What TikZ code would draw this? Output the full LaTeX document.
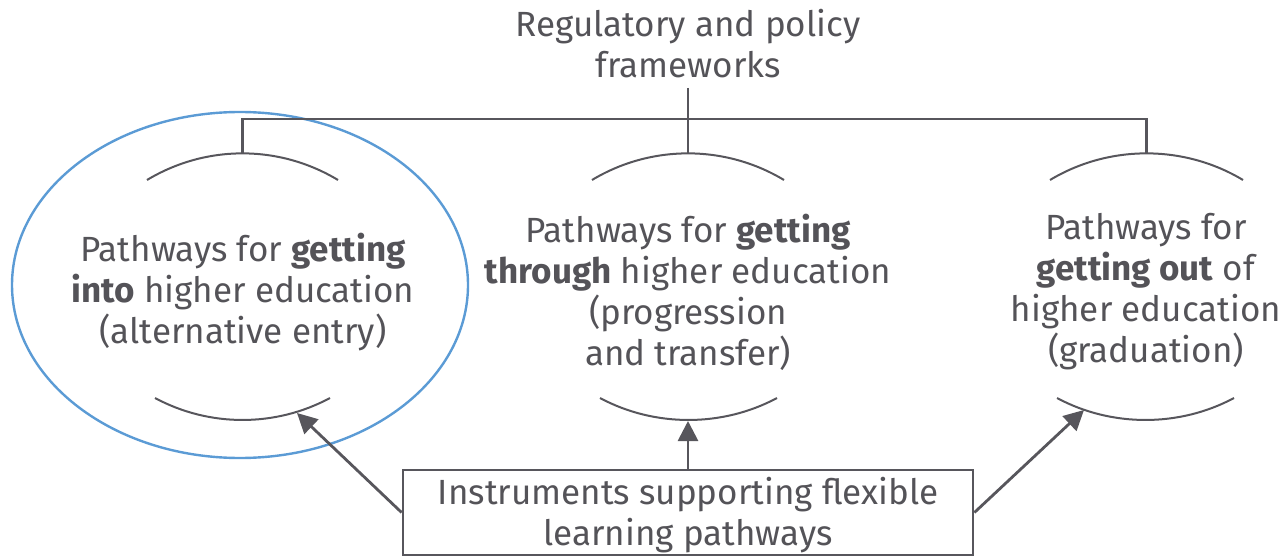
\documentclass[tikz,border=0pt]{standalone}
\usepackage{fontspec}
\setmainfont{Fira Sans}
\usetikzlibrary{arrows.meta}
\definecolor{ink}{HTML}{57565C}
\definecolor{txt}{HTML}{545358}
\definecolor{oval}{HTML}{5B9BD5}
\begin{document}
\begin{tikzpicture}[x=1pt,y=-1pt,
  lbl/.style={align=center,text=txt,font=\fontsize{35}{41}\selectfont,inner sep=0pt},
  arcline/.style={draw=ink,line width=2pt},
  bus/.style={draw=ink,line width=2.8pt},
  conn/.style={draw=ink,line width=2.8pt,-{Triangle[length=20pt,width=20pt]}},
  instbox/.style={draw=ink,line width=2.8pt,minimum width=570pt,minimum height=85pt,inner sep=0pt}]
\useasboundingbox (0,0) rectangle (1283,556);
% blue ellipse
\draw[oval,line width=2.4pt] (240,285) ellipse [x radius=228, y radius=173];
% texts
\node[lbl] (reg) at (688,44) {Regulatory and policy\\frameworks};
\node[lbl] (into) at (243,292) {Pathways for \textbf{getting}\\\textbf{into} higher education\\(alternative entry)};
\node[lbl] (through) at (688,292) {Pathways for \textbf{getting}\\\textbf{through} higher education\\(progression\\and transfer)};
\node[lbl] (out) at (1146,292) {Pathways for\\\textbf{getting out} of\\higher education\\(graduation)};
\node[instbox] (inst) at (688,512.5) {};
\node[lbl] (insttext) at (688,515) {Instruments supporting flexible\\learning pathways};
% arc apex coordinates
\coordinate (lt) at (242.5,153);
\coordinate (mt) at (688,153);
\coordinate (rt) at (1146.5,153);
\coordinate (lb) at (297,413);
\coordinate (mb) at (688,421);
\coordinate (rb) at (1084,410);
\coordinate (regfoot) at (688,88);
\coordinate (busl) at (242.5,119);
\coordinate (busr) at (1146.5,119);
% arcs
\draw[arcline] (147,180) .. controls (206,144.5) and (279,144.5) .. (338,180);
\draw[arcline] (592,180) .. controls (651,144.5) and (725,144.5) .. (784,180);
\draw[arcline] (1050,180) .. controls (1109,144.5) and (1184,144.5) .. (1243,180);
\draw[arcline] (155,398) .. controls (209.6,427.3) and (275.4,427.3) .. (330,398);
\draw[arcline] (600,398) .. controls (654.6,427.3) and (722.4,427.3) .. (777,398);
\draw[arcline] (1057,398) .. controls (1111.6,427.3) and (1179.4,427.3) .. (1234,398);
% bus
\draw[bus] (regfoot) -- (mt);
\draw[bus] (lt) -- (busl) -- (busr) -- (rt);
% arrows
\draw[conn] (inst.west) -- (lb);
\draw[conn] (inst.north) -- (mb);
\draw[conn] (inst.east) -- (rb);
\end{tikzpicture}
\end{document}
